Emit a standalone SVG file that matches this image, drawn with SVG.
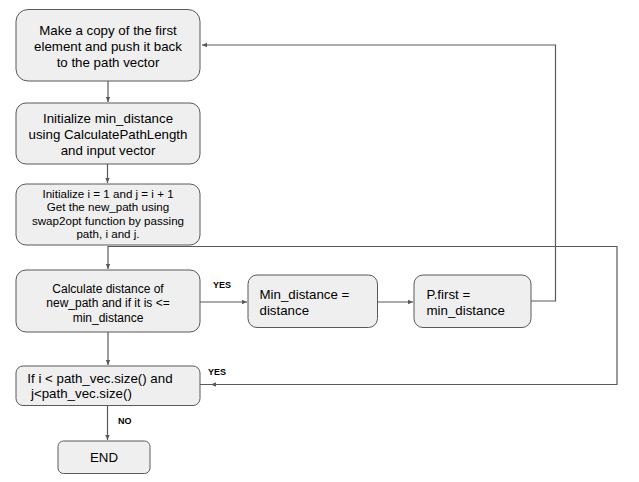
<svg xmlns="http://www.w3.org/2000/svg" width="639" height="482" viewBox="0 0 639 482">
<style>
.box{fill:#efefef;stroke:#595959;stroke-width:1}
.t{font-family:"Liberation Sans",Arial,sans-serif;font-size:13.3px;fill:#000}
.s{font-size:12px}
.xs{font-size:11.6px}
.c{text-anchor:middle}
.lbl{font-family:"Liberation Sans",Arial,sans-serif;font-size:9px;font-weight:bold;fill:#000}
.ln{fill:none;stroke:#595959;stroke-width:1.2}
</style>
<defs>
<marker id="ah" markerWidth="6" markerHeight="6" refX="5" refY="3" orient="auto" markerUnits="userSpaceOnUse">
<path d="M0,0.8 L5,3 L0,5.2 Z" fill="#595959"/>
</marker>
</defs>
<rect width="639" height="482" fill="#fff"/>
<g id="connectors">
<path class="ln" d="M108,81 V102" marker-end="url(#ah)"/>
<path class="ln" d="M107.5,164 V183" marker-end="url(#ah)"/>
<path class="ln" d="M108,246 V269" marker-end="url(#ah)"/>
<path class="ln" d="M108,332 V365" marker-end="url(#ah)"/>
<path class="ln" d="M107.5,405 V440" marker-end="url(#ah)"/>
<path class="ln" d="M200,302 H247" marker-end="url(#ah)"/>
<path class="ln" d="M377,302 H413" marker-end="url(#ah)"/>
<path class="ln" d="M531,301 H555.5 V45 H202" marker-end="url(#ah)"/>
<path class="ln" d="M108,246.5 H617 V384.5 H200"/>
<path d="M211,384.5 L216,382.3 L216,386.7 Z" fill="#595959"/>
<text class="lbl" x="213" y="288">YES</text>
<text class="lbl" x="208" y="375">YES</text>
<text class="lbl" x="118" y="424">NO</text>
</g>
<g id="n1">
<rect class="box" x="16" y="9.5" width="184" height="71.5" rx="12"/>
<text class="t c" x="108" y="35">Make a copy of the first</text>
<text class="t c" x="108" y="51">element and push it back</text>
<text class="t c" x="108" y="67">to the path vector</text>
</g>
<g id="n2">
<rect class="box" x="16" y="103" width="184" height="61" rx="10"/>
<text class="t c" x="108" y="123">Initialize min_distance</text>
<text class="t c" x="108" y="139">using CalculatePathLength</text>
<text class="t c" x="108" y="155">and input vector</text>
</g>
<g id="n3">
<rect class="box" x="16" y="184" width="184" height="61" rx="10"/>
<text class="t xs c" x="108" y="197.5">Initialize i = 1 and j = i + 1</text>
<text class="t xs c" x="108" y="211">Get the new_path using</text>
<text class="t xs c" x="108" y="224.5">swap2opt function by passing</text>
<text class="t xs c" x="108" y="238">path, i and j.</text>
</g>
<g id="n4">
<rect class="box" x="16" y="270" width="184" height="62" rx="10"/>
<text class="t s c" x="108" y="292.5">Calculate distance of</text>
<text class="t s c" x="108" y="307">new_path and if it is &lt;=</text>
<text class="t s c" x="108" y="321.5">min_distance</text>
</g>
<g id="n5">
<rect class="box" x="248" y="275" width="129.5" height="52.5" rx="9"/>
<text class="t" x="259.5" y="299">Min_distance =</text>
<text class="t" x="259.5" y="315">distance</text>
</g>
<g id="n6">
<rect class="box" x="414" y="275" width="117" height="52.5" rx="9"/>
<text class="t" x="426.5" y="299">P.first =</text>
<text class="t" x="426.5" y="315">min_distance</text>
</g>
<g id="n7">
<rect class="box" x="16" y="366" width="184" height="39.5" rx="7"/>
<text class="t" x="27.3" y="383">If i &lt; path_vec.size() and</text>
<text class="t" x="27.3" y="398" xml:space="preserve"> j&lt;path_vec.size()</text>
</g>
<g id="n8">
<rect class="box" x="58" y="441" width="92" height="32.5" rx="5.5"/>
<text class="t c" x="104" y="462">END</text>
</g>
</svg>
